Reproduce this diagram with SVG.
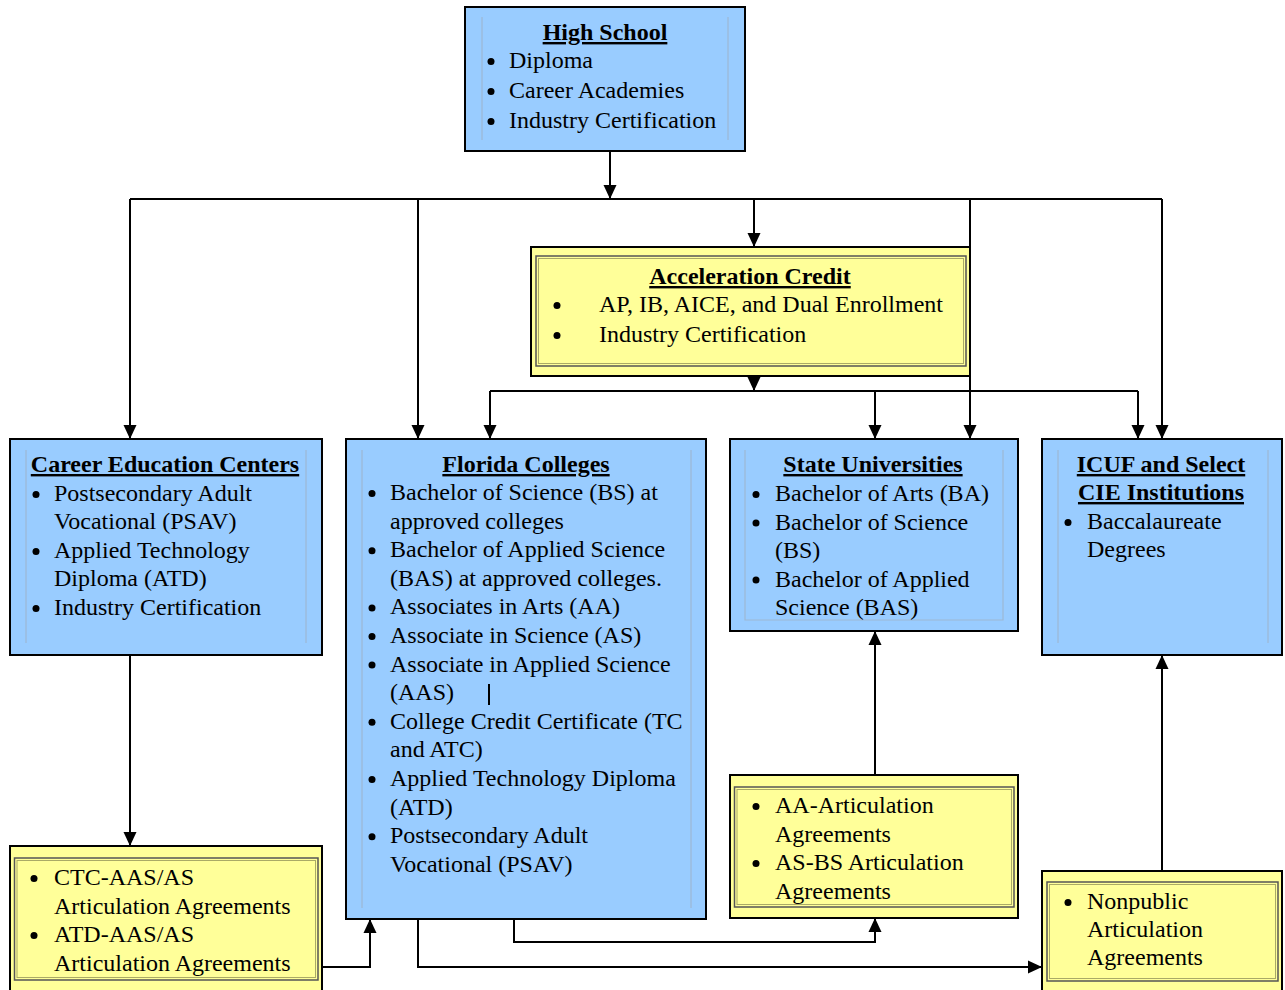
<svg xmlns="http://www.w3.org/2000/svg" width="1285" height="990" viewBox="0 0 1285 990">
<defs>
<marker id="ah" markerUnits="userSpaceOnUse" markerWidth="14" markerHeight="14" refX="14" refY="6.5" orient="auto" viewBox="0 0 14 13">
<path d="M0,0 L14,6.5 L0,13 z" fill="#000"/>
</marker>
<style>
.blue{fill:#99CCFF;stroke:#000;stroke-width:2}
.yel{fill:#FFFF99;stroke:#000;stroke-width:2}
.in1{fill:none;stroke:#555;stroke-width:1.5}
.in2{fill:none;stroke:#AAAA66;stroke-width:1}
.faint{stroke:#9DB8D4;stroke-width:1.2;fill:none}
text{font-family:"Liberation Serif","Times New Roman",serif;font-size:24px;fill:#000}
.t{font-weight:bold;text-decoration:underline;text-anchor:middle}
.c{stroke:#000;stroke-width:2;fill:none}
.a{marker-end:url(#ah)}
.b{fill:#000}
</style>
</defs>
<rect width="1285" height="990" fill="#fff"/>

<g id="connectors">
<line class="c a" x1="610" y1="151" x2="610" y2="199"/>
<line class="c" x1="130" y1="199" x2="1162" y2="199"/>
<line class="c a" x1="130" y1="199" x2="130" y2="439"/>
<line class="c a" x1="418" y1="199" x2="418" y2="439"/>
<line class="c a" x1="754" y1="199" x2="754" y2="247"/>
<line class="c a" x1="970" y1="199" x2="970" y2="439"/>
<line class="c a" x1="1162" y1="199" x2="1162" y2="439"/>
<line class="c a" x1="754" y1="367" x2="754" y2="391"/>
<line class="c" x1="490" y1="391" x2="1138" y2="391"/>
<line class="c a" x1="490" y1="391" x2="490" y2="439"/>
<line class="c a" x1="875" y1="391" x2="875" y2="439"/>
<line class="c a" x1="1138" y1="391" x2="1138" y2="439"/>
<line class="c a" x1="130" y1="655" x2="130" y2="846"/>
<polyline class="c a" points="322,967 370,967 370,919"/>
<polyline class="c a" points="418,919 418,967 1042,967"/>
<polyline class="c a" points="514,919 514,942 875,942 875,918"/>
<line class="c a" x1="875" y1="775" x2="875" y2="631"/>
<line class="c a" x1="1162" y1="871" x2="1162" y2="655"/>
</g>

<g id="high-school">
<rect class="blue" x="465" y="7" width="280" height="144"/>
<line class="faint" x1="482" y1="17" x2="482" y2="140"/>
<line class="faint" x1="728" y1="17" x2="728" y2="140"/>
<text class="t" x="605" y="40">High School</text>
<circle class="b" cx="491" cy="61.5" r="3.5"/><text x="509" y="68">Diploma</text>
<circle class="b" cx="491" cy="91.5" r="3.5"/><text x="509" y="98">Career Academies</text>
<circle class="b" cx="491" cy="121.5" r="3.5"/><text x="509" y="128">Industry Certification</text>
</g>

<g id="acceleration-credit">
<rect class="yel" x="531" y="247" width="439" height="129"/>
<rect class="in1" x="536" y="256" width="430" height="110"/>
<rect class="in2" x="538.5" y="258.5" width="425" height="105"/>
<text class="t" x="750" y="284">Acceleration Credit</text>
<circle class="b" cx="557" cy="305.5" r="3.5"/><text x="599" y="312">AP, IB, AICE, and Dual Enrollment</text>
<circle class="b" cx="557" cy="335.5" r="3.5"/><text x="599" y="342">Industry Certification</text>
</g>

<g id="career-education-centers">
<rect class="blue" x="10" y="439" width="312" height="216"/>
<line class="faint" x1="26" y1="450" x2="26" y2="643"/>
<line class="faint" x1="306" y1="450" x2="306" y2="643"/>
<text class="t" x="165" y="472">Career Education Centers</text>
<circle class="b" cx="36" cy="494.5" r="3.5"/><text x="54" y="501">Postsecondary Adult</text>
<text x="54" y="529">Vocational (PSAV)</text>
<circle class="b" cx="36" cy="551.5" r="3.5"/><text x="54" y="558">Applied Technology</text>
<text x="54" y="586">Diploma (ATD)</text>
<circle class="b" cx="36" cy="608.5" r="3.5"/><text x="54" y="615">Industry Certification</text>
</g>

<g id="florida-colleges">
<rect class="blue" x="346" y="439" width="360" height="480"/>
<line class="faint" x1="362" y1="450" x2="362" y2="908"/>
<line class="faint" x1="691" y1="450" x2="691" y2="908"/>
<text class="t" x="526" y="472">Florida Colleges</text>
<circle class="b" cx="372" cy="493.5" r="3.5"/><text x="390" y="500">Bachelor of Science (BS) at</text>
<text x="390" y="528.6">approved colleges</text>
<circle class="b" cx="372" cy="550.7" r="3.5"/><text x="390" y="557.2">Bachelor of Applied Science</text>
<text x="390" y="585.8">(BAS) at approved colleges.</text>
<circle class="b" cx="372" cy="607.9" r="3.5"/><text x="390" y="614.4">Associates in Arts (AA)</text>
<circle class="b" cx="372" cy="636.5" r="3.5"/><text x="390" y="643">Associate in Science (AS)</text>
<circle class="b" cx="372" cy="665.1" r="3.5"/><text x="390" y="671.6">Associate in Applied Science</text>
<text x="390" y="700.2">(AAS)</text>
<line x1="489" y1="684" x2="489" y2="705" stroke="#000" stroke-width="2"/>
<circle class="b" cx="372" cy="722.3" r="3.5"/><text x="390" y="728.8">College Credit Certificate (TC</text>
<text x="390" y="757.4">and ATC)</text>
<circle class="b" cx="372" cy="779.5" r="3.5"/><text x="390" y="786">Applied Technology Diploma</text>
<text x="390" y="814.6">(ATD)</text>
<circle class="b" cx="372" cy="836.7" r="3.5"/><text x="390" y="843.2">Postsecondary Adult</text>
<text x="390" y="871.8">Vocational (PSAV)</text>
</g>

<g id="state-universities">
<rect class="blue" x="730" y="439" width="288" height="192"/>
<path class="faint" d="M745,450 V620 H1003 V450"/>
<text class="t" x="873" y="472">State Universities</text>
<circle class="b" cx="756" cy="494.5" r="3.5"/><text x="775" y="501">Bachelor of Arts (BA)</text>
<circle class="b" cx="756" cy="523" r="3.5"/><text x="775" y="529.5">Bachelor of Science</text>
<text x="775" y="558">(BS)</text>
<circle class="b" cx="756" cy="580" r="3.5"/><text x="775" y="586.5">Bachelor of Applied</text>
<text x="775" y="615">Science (BAS)</text>
</g>

<g id="icuf-cie">
<rect class="blue" x="1042" y="439" width="240" height="216"/>
<line class="faint" x1="1058" y1="450" x2="1058" y2="643"/>
<line class="faint" x1="1268" y1="450" x2="1268" y2="643"/>
<text class="t" x="1161" y="472">ICUF and Select</text>
<text class="t" x="1161" y="500">CIE Institutions</text>
<circle class="b" cx="1068" cy="522.5" r="3.5"/><text x="1087" y="529">Baccalaureate</text>
<text x="1087" y="557">Degrees</text>
</g>

<g id="ctc-atd-agreements">
<rect class="yel" x="10" y="846" width="312" height="160"/>
<rect class="in1" x="14.5" y="858" width="303.5" height="122"/>
<rect class="in2" x="17" y="860.5" width="298.5" height="117"/>
<circle class="b" cx="34" cy="878.5" r="3.5"/><text x="54" y="885">CTC-AAS/AS</text>
<text x="54" y="913.5">Articulation Agreements</text>
<circle class="b" cx="34" cy="935.5" r="3.5"/><text x="54" y="942">ATD-AAS/AS</text>
<text x="54" y="970.5">Articulation Agreements</text>
</g>

<g id="aa-as-bs-agreements">
<rect class="yel" x="730" y="775" width="288" height="143"/>
<rect class="in1" x="734.5" y="787" width="279.5" height="120"/>
<rect class="in2" x="737" y="789.5" width="274.5" height="115"/>
<circle class="b" cx="756" cy="806.5" r="3.5"/><text x="775" y="813">AA-Articulation</text>
<text x="775" y="841.5">Agreements</text>
<circle class="b" cx="756" cy="863.5" r="3.5"/><text x="775" y="870">AS-BS Articulation</text>
<text x="775" y="898.5">Agreements</text>
</g>

<g id="nonpublic-agreements">
<rect class="yel" x="1042" y="871" width="240" height="140"/>
<rect class="in1" x="1047" y="882" width="231" height="99"/>
<rect class="in2" x="1049.5" y="884.5" width="226" height="94"/>
<circle class="b" cx="1068" cy="902.5" r="3.5"/><text x="1087" y="909">Nonpublic</text>
<text x="1087" y="937">Articulation</text>
<text x="1087" y="965">Agreements</text>
</g>
</svg>
